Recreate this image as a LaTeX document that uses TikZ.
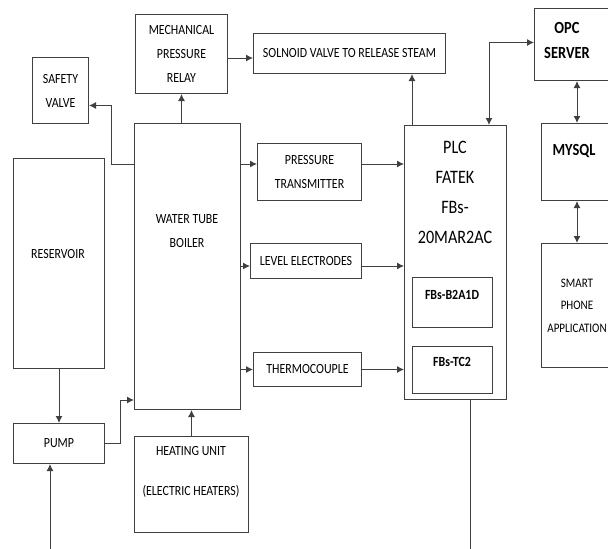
\documentclass[tikz,border=0pt]{standalone}
\usepackage{fontspec}
\setmainfont{Carlito}[FakeStretch=0.85]
\usetikzlibrary{arrows.meta,positioning}
\tikzset{>={Latex[length=7pt,width=7pt]},auto}
\tikzset{blk/.style={draw=black!75,line width=1pt,anchor=north west,inner sep=0pt,
        align=center,font=\fontsize{14}{24}\selectfont}}
\tikzset{txt/.style={align=center,inner sep=0pt,font=\fontsize{14}{24}\selectfont}}
\tikzset{link/.style={->,draw=black!75,line width=1pt}}

\begin{document}
\begin{tikzpicture}[x=1pt,y=-1pt]
                \useasboundingbox (0,0) rectangle (608,549);
                \node[blk,minimum width=92pt,minimum height=79pt]  (mpr)    at (135,14)  {MECHANICAL\\PRESSURE\\RELAY};
                \node[blk,minimum width=192pt,minimum height=40pt] (sol)    at (253,33)  {SOLNOID VALVE TO RELEASE STEAM};
                \node[blk,minimum width=56pt,minimum height=66pt]  (safety) at (32,57)   {SAFETY\\VALVE};
                \node[blk,minimum width=106pt,minimum height=286pt] (boiler) at (134,123) {};
                \node[blk,minimum width=91pt,minimum height=210pt] (res)    at (13,158)  {};
                \node[blk,minimum width=104pt,minimum height=57pt] (pt)     at (257,143) {PRESSURE\\TRANSMITTER};
                \node[blk,minimum width=111pt,minimum height=35pt] (le)     at (250,243) {LEVEL ELECTRODES};
                \node[blk,minimum width=108pt,minimum height=34pt] (tc)     at (253,352) {THERMOCOUPLE};
                \node[blk,minimum width=102pt,minimum height=274pt] (plc)   at (404,125) {};
                \node[blk,minimum width=80pt,minimum height=50pt]  (ai)     at (412,277) {};
                \node[blk,minimum width=80pt,minimum height=47pt]  (tcm)    at (412,346) {};
                \node[blk,minimum width=78pt,minimum height=72pt]  (opc)    at (534,8)   {};
                \node[blk,minimum width=71pt,minimum height=77pt]  (sql)    at (541,123) {};
                \node[blk,minimum width=71pt,minimum height=124pt,font=\fontsize{13}{22.5}\selectfont]
                                                                   (phone)  at (541,243) {SMART\\PHONE\\APPLICATION};
                \node[blk,minimum width=91pt,minimum height=40pt]  (pump)   at (13,423)  {PUMP};
                \node[blk,minimum width=114pt,minimum height=96pt] (heat)   at (134,436) {};

                \node[txt] (boiler-t) at (187,231) {WATER TUBE\\BOILER};
                \node[txt] (res-t)    at (58,254)  {RESERVOIR};
                \node[txt,font=\fontsize{19}{30}\selectfont] (plc-t) at (455,192) {PLC\\FATEK\\FBs-\\20MAR2AC};
                \node[txt,font=\bfseries\fontsize{14}{24}\selectfont] (ai-t)  at (452,295) {FBs-B2A1D};
                \node[txt,font=\bfseries\fontsize{14}{24}\selectfont] (tcm-t) at (452,362) {FBs-TC2};
                \node[txt,font=\bfseries\fontsize{17}{25}\selectfont] (opc-t) at (567,40)  {OPC\\SERVER};
                \node[txt,font=\bfseries\fontsize{17}{25}\selectfont] (sql-t) at (574,151) {MYSQL};
                \node[txt,font=\fontsize{14}{20}\selectfont] (heat-t) at (191,472) {HEATING UNIT\\[20pt](ELECTRIC HEATERS)};

                \coordinate (src) at (50,552);
                \coordinate (out) at (470,552);

                \draw[link] (mpr.south |- boiler.north) -- (mpr.south);
                \draw[link] ([yshift=-4pt]mpr.east) -- ([yshift=-4pt]mpr.east -| sol.west);
                \draw[link] ([yshift=-41pt]boiler.north west) -- ++(-23,0) |- ([yshift=-15pt]safety.east);
                \draw[link] ([yshift=8pt]pt.west -| boiler.east) -- ([yshift=8pt]pt.west);
                \draw[link] ([yshift=-5pt]le.west -| boiler.east) -- ([yshift=-5pt]le.west);
                \draw[link] (tc.west -| boiler.east) -- (tc.west);
                \draw[link] ([yshift=8pt]pt.east) -- ([yshift=8pt]pt.east -| plc.west);
                \draw[link] ([yshift=-5pt]le.east) -- ([yshift=-5pt]le.east -| plc.west);
                \draw[link] (tc.east) -- (tc.east -| plc.west);
                \draw[link] ([xshift=8pt]plc.north west) -- ([xshift=8pt]plc.north west |- sol.south);
                \draw[link,<->] ([xshift=-18pt]plc.north east) |- ([yshift=2pt]opc.west);
                \draw[link,<->] (sql.north |- opc.south) -- (sql.north);
                \draw[link,<->] (sql.south) -- (phone.north);
                \draw[link] (res.south) -- (pump.north);
                \draw[link] (pump.east) -- ++(15,0) |- ([yshift=10pt]boiler.south west);
                \draw[link] (heat.north) -- (heat.north |- boiler.south);
                \draw[link] (src) -- (src |- pump.south);
                \draw[draw=black!75,line width=1pt] (plc.south -| out) -- (out);
            \end{tikzpicture}
\end{document}
